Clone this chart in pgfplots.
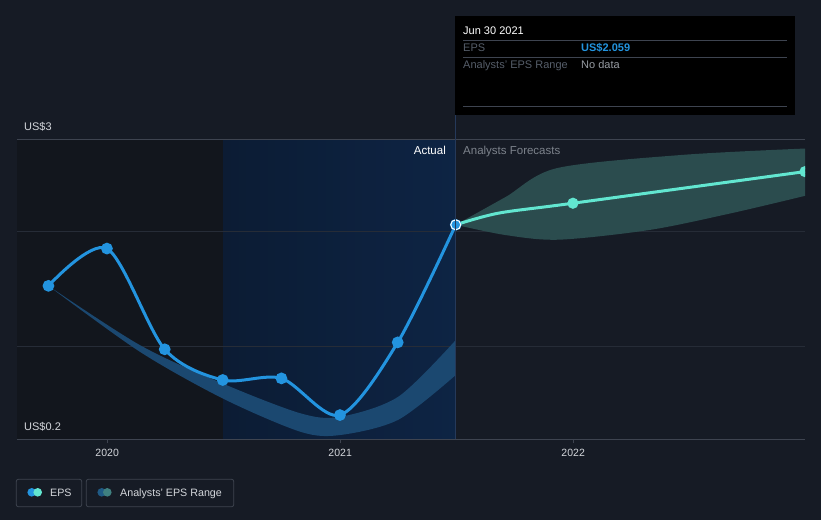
\documentclass[border=0pt]{standalone}
\usepackage{fontspec}
\setmainfont{Liberation Sans}
\usepackage{xcolor}
\usepackage{pgfplots}
\pgfplotsset{compat=1.18}
\usepgfplotslibrary{fillbetween}

\definecolor{bg}{HTML}{161B25}
\definecolor{pastreg}{HTML}{12161D}
\definecolor{actA}{HTML}{0C1C34}
\definecolor{actB}{HTML}{0D2444}
\definecolor{gridc}{HTML}{262C37}
\definecolor{linec}{HTML}{3E4450}
\definecolor{eps}{HTML}{2394DF}
\definecolor{fcst}{HTML}{62E6D0}
\definecolor{fband}{HTML}{2B4C4E}
\definecolor{hband}{HTML}{1B4870}
\definecolor{tickc}{HTML}{D3D6DB}
\definecolor{dimtxt}{HTML}{7D838C}
\definecolor{vline}{HTML}{25395A}
\definecolor{legA}{HTML}{1F5A85}
\definecolor{legB}{HTML}{3F8080}
\pagecolor{bg}

\begin{document}
\begin{tikzpicture}[x=1pt,y=1pt]
\path (0,0) rectangle (821,520);
\begin{axis}[
  at={(17pt,80.7pt)}, anchor=south west,
  width=788pt, height=300pt, scale only axis,
  xmin=2019.613, xmax=2022.995,
  ymin=0.2, ymax=2.8,
  set layers, clip marker paths=true,
  axis x line*=bottom,
  x axis line style={color=linec, line width=1pt},
  y axis line style={draw=none},
  xtick={2020,2021,2022},
  xticklabels={2020,2021,2022},
  xtick style={color=linec, line width=1pt},
  tick align=outside, major tick length=4pt,
  ytick={1,2}, yticklabels={},
  ytick style={draw=none},
  ymajorgrids,
  grid style={color=gridc, line width=1pt},
  extra y ticks={2.8}, extra y tick labels={},
  extra y tick style={grid style={color=linec, line width=1pt}},
  xticklabel style={font=\fontsize{10.5}{12}\selectfont, color=tickc, yshift=-2pt},
]
% past and actual period shading
\addplot[draw=none, fill=pastreg, on layer=axis background]
  coordinates {(2019.613,0.2) (2020.5,0.2) (2020.5,2.8) (2019.613,2.8)} -- cycle;
\addplot[draw=none, left color=actA, right color=actB, on layer=axis background]
  coordinates {(2020.5,0.2) (2021.496,0.2) (2021.496,2.8) (2020.5,2.8)} -- cycle;

% analysts' EPS range, past
\addplot[name path=hu, draw=none, smooth] coordinates {
  (2019.748,1.53) (2020.14,1.017) (2020.5,0.68) (2020.83,0.425)
  (2021.0,0.395) (2021.25,0.57) (2021.496,1.06)};
\addplot[name path=hl, draw=none, smooth] coordinates {
  (2019.748,1.53) (2020.14,0.959) (2020.5,0.55) (2020.83,0.265)
  (2021.0,0.237) (2021.25,0.37) (2021.496,0.757)};
\addplot[hband, draw=none] fill between[of=hu and hl];

% analysts' EPS range, forecast
\addplot[name path=fu, draw=none, smooth] coordinates {
  (2021.496,2.059) (2021.71,2.30) (2021.93,2.55) (2022.47,2.665) (2022.995,2.72)};
\addplot[name path=fl, draw=none, smooth] coordinates {
  (2021.496,2.059) (2021.71,1.97) (2021.94,1.93) (2022.33,2.015)
  (2022.68,2.16) (2022.995,2.31)};
\addplot[fband, draw=none] fill between[of=fu and fl];

% forecast EPS
\addplot[fcst, line width=3pt, smooth, mark=*, mark size=4pt,
  mark options={fill=fcst, draw=none}, mark indices={3,4}] coordinates {
  (2021.496,2.059) (2021.68,2.16) (2021.999,2.246) (2022.995,2.52)};

% actual EPS
\addplot[eps, line width=3pt, smooth, mark=*, mark size=4.3pt,
  mark options={fill=eps, draw=none}] coordinates {
  (2019.748,1.53) (2019.999,1.853) (2020.247,0.98) (2020.496,0.714)
  (2020.748,0.728) (2020.999,0.41) (2021.247,1.04) (2021.496,2.059)};
\addplot[only marks, mark=*, mark size=5pt,
  mark options={fill=eps, draw=white, line width=1pt}] coordinates {
  (2021.496,2.059)};
\end{axis}

% divider between actual and forecast
\draw[vline, line width=1pt] (455.5,80.7) -- (455.5,405);

% y labels
\node[anchor=base west, inner sep=0, text=tickc, font=\fontsize{11}{13}\selectfont] at (24,389) {US\$3};
\node[anchor=base west, inner sep=0, text=tickc, font=\fontsize{11}{13}\selectfont] at (24,89.3) {US\$0.2};

% section labels
\node[anchor=base east, inner sep=0, text=white, font=\fontsize{11.5}{13}\selectfont] at (446,365) {Actual};
\node[anchor=base west, inner sep=0, text=dimtxt, font=\fontsize{11.5}{13}\selectfont] at (463,365) {Analysts Forecasts};

% tooltip
\fill[black] (455,405) rectangle (795,504);
\draw[linec, line width=0.8pt] (463,480) -- (787,480);
\draw[linec, line width=0.8pt] (463,463) -- (787,463);
\draw[linec, line width=0.8pt] (463,413.3) -- (787,413.3);
\node[anchor=base west, inner sep=0, text=white, font=\fontsize{11}{13}\selectfont] at (463,485) {Jun 30 2021};
\node[anchor=base west, inner sep=0, text=dimtxt!130, font=\fontsize{11}{13}\selectfont] at (463,468) {EPS};
\node[anchor=base west, inner sep=0, text=eps, font=\bfseries\fontsize{11}{13}\selectfont] at (581,468) {US\$2.059};
\node[anchor=base west, inner sep=0, text=dimtxt!130, font=\fontsize{11}{13}\selectfont] at (463,451) {Analysts' EPS Range};
\node[anchor=base west, inner sep=0, text=dimtxt!80, font=\fontsize{11}{13}\selectfont] at (581,451) {No data};

% legend
\draw[linec, line width=0.8pt, rounded corners=2pt] (16.3,13.3) rectangle (81.7,40.7);
\draw[linec, line width=0.8pt, rounded corners=2pt] (86.3,13.3) rectangle (233.7,40.7);
\fill[eps] (31.7,27.7) circle (4.3);
\fill[fcst] (37.7,27.7) circle (4.3);
\fill[legA] (101.7,27.7) circle (4.3);
\fill[legB] (107.3,27.7) circle (4.3);
\node[anchor=base west, inner sep=0, text=tickc, font=\fontsize{10.7}{13}\selectfont] at (50,23.7) {EPS};
\node[anchor=base west, inner sep=0, text=tickc, font=\fontsize{10.7}{13}\selectfont] at (120,23.7) {Analysts' EPS Range};
\end{tikzpicture}
\end{document}
